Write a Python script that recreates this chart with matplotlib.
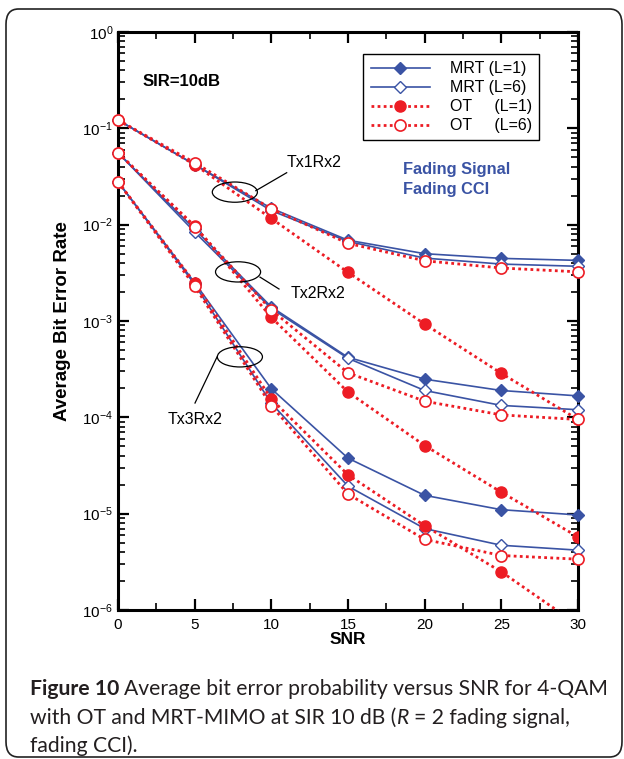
import matplotlib.pyplot as plt
from matplotlib.patches import Ellipse, FancyBboxPatch
from matplotlib.lines import Line2D

snr = [0, 5, 10, 15, 20, 25, 30]

# Tx1Rx2
tx1_mrt1 = [0.122, 0.042, 0.0148, 0.0069, 0.0050, 0.00447, 0.00426]
tx1_mrt6 = [0.122, 0.042, 0.0140, 0.0067, 0.0045, 0.0039, 0.0037]
tx1_ot1 = [0.122, 0.042, 0.0116, 0.0032, 0.00093, 0.000286, 0.000095]
tx1_ot6 = [0.122, 0.044, 0.0146, 0.0064, 0.00422, 0.00355, 0.00324]

# Tx2Rx2
tx2_mrt1 = [0.0558, 0.0090, 0.0014, 0.00042, 0.000249, 0.00019, 0.000167]
tx2_mrt6 = [0.0558, 0.0084, 0.00135, 0.00041, 0.00019, 0.000133, 0.00012]
tx2_ot1 = [0.0558, 0.0097, 0.00109, 0.000183, 0.000051, 0.0000167, 0.00000574]
tx2_ot6 = [0.0558, 0.0095, 0.0013, 0.00029, 0.000147, 0.000106, 0.000095]

# Tx3Rx2
tx3_mrt1 = [0.0279, 0.0025, 0.000198, 0.0000377, 0.0000155, 0.000011, 0.0000097]
tx3_mrt6 = [0.0279, 0.0024, 0.00014, 0.0000193, 0.0000070, 0.0000047, 0.00000418]
tx3_ot1 = [0.0279, 0.0025, 0.000155, 0.0000253, 0.0000075, 0.00000249, 0.0000007]
tx3_ot6 = [0.0279, 0.0023, 0.000132, 0.000016, 0.0000054, 0.00000368, 0.00000337]

blue = '#3a53a4'
red = '#ed1c24'

plt.rcParams['font.family'] = ['Liberation Sans', 'DejaVu Sans']

fig = plt.figure(figsize=(6.24, 7.59), dpi=100)
ax = fig.add_axes([0.1891, 0.1963, 0.7372, 0.7615])

mrt1 = dict(color=blue, lw=1.2, marker='D', ms=6.5, mfc=blue, mec=blue)
mrt6 = dict(color=blue, lw=1.2, marker='D', ms=6.5, mfc='white', mec=blue, mew=1.0)
ot1 = dict(color=red, lw=2.0, ls=(0, (1, 1.2)), marker='o', ms=8, mfc=red, mec=red)
ot6 = dict(color=red, lw=2.0, ls=(0, (1, 1.2)), marker='o', ms=8, mfc='white', mec=red, mew=1.2)

for m1, m6, o1, o6 in [(tx1_mrt1, tx1_mrt6, tx1_ot1, tx1_ot6),
                       (tx2_mrt1, tx2_mrt6, tx2_ot1, tx2_ot6),
                       (tx3_mrt1, tx3_mrt6, tx3_ot1, tx3_ot6)]:
    ax.plot(snr, m1, clip_on=False, zorder=3, **mrt1)
    ax.plot(snr, m6, clip_on=False, zorder=3, **mrt6)
    ax.plot(snr, o1, zorder=4, **ot1)
    ax.plot(snr, o6, clip_on=False, zorder=4, **ot6)

ax.set_yscale('log')
ax.set_xlim(0, 30)
ax.set_ylim(1e-6, 1)
ax.set_xticks(range(0, 31, 5))
ax.set_xticks([2.5 + 5 * i for i in range(6)], minor=True)
ax.tick_params(which='both', direction='in', top=True, right=True, labelsize=11, width=1.2)
ax.tick_params(which='major', length=8, width=1.6)
ax.tick_params(which='minor', length=5)
ax.tick_params(axis='x', pad=6)
for s in ax.spines.values():
    s.set_linewidth(2.2)

ax.set_xlabel('SNR', fontsize=12.5, fontweight='bold', labelpad=0)
ax.set_ylabel('Average Bit Error Rate', fontsize=13.5, fontweight='bold', labelpad=8)

ax.text(0.054, 0.915, 'SIR=10dB', transform=ax.transAxes, fontsize=12, fontweight='bold',
        va='center', ha='left')
ax.text(0.62, 0.762, 'Fading Signal', transform=ax.transAxes, fontsize=11.8, fontweight='bold',
        color=blue, va='center', ha='left')
ax.text(0.62, 0.727, 'Fading CCI', transform=ax.transAxes, fontsize=11.8, fontweight='bold',
        color=blue, va='center', ha='left')

# group annotations
groups = [((0.254, 0.723), (0.2996, 0.7255), (0.3667, 0.7566), (0.426, 0.775), 'Tx1Rx2'),
          ((0.261, 0.585), (0.3087, 0.576), (0.35, 0.5554), (0.435, 0.547), 'Tx2Rx2'),
          ((0.265, 0.438), (0.2152, 0.4377), (0.1674, 0.3581), (0.1674, 0.329), 'Tx3Rx2')]
for c, p0, p1, tp, lab in groups:
    ax.add_patch(Ellipse(c, 0.098, 0.035, transform=ax.transAxes, fill=False,
                         ec='black', lw=0.9, zorder=5))
    ax.plot([p0[0], p1[0]], [p0[1], p1[1]], transform=ax.transAxes, color='black', lw=0.9, zorder=5)
    ax.text(tp[0], tp[1], lab, transform=ax.transAxes, fontsize=11.5, ha='center', va='center')

handles = [Line2D([], [], **mrt1), Line2D([], [], **mrt6), Line2D([], [], **ot1), Line2D([], [], **ot6)]
labels = ['MRT (L=1)', 'MRT (L=6)', 'OT     (L=1)', 'OT     (L=6)']
leg = ax.legend(handles, labels, loc='upper right', bbox_to_anchor=(0.915, 0.962), fontsize=11.5,
                handlelength=3.75, handletextpad=1.2, labelspacing=0.25, borderpad=0.45,
                borderaxespad=0, fancybox=False, edgecolor='black', framealpha=1)
leg.get_frame().set_linewidth(1.0)

# caption, pieces placed one after another
cap_kw = dict(fontsize=15.2, color='#231f20', family=['Lato', 'DejaVu Sans'], va='center')
r = fig.canvas.get_renderer()
inv = fig.transFigure.inverted()


def caption_line(x, y, parts):
    for txt, extra, gap in parts:
        t = fig.text(x + gap / 624, y, txt, **cap_kw, **extra)
        x = inv.transform(t.get_window_extent(r))[1][0]
    return x


caption_line(30 / 624, 1 - 689 / 759, [('Figure 10', dict(fontweight='bold'), 0),
                                        ('Average bit error probability versus SNR for 4-QAM', {}, 5)])
caption_line(30 / 624, 1 - 718 / 759, [('with OT and MRT-MIMO at SIR 10 dB (', {}, 0),
                                        ('R', dict(style='italic'), 0.5),
                                        ('= 2 fading signal,', {}, 5)])
caption_line(30 / 624, 1 - 746 / 759, [('fading CCI).', {}, 0)])

box = FancyBboxPatch((6 / 624, 2 / 759), 616 / 624, 748 / 759, boxstyle='round,pad=0,rounding_size=0.02',
                     transform=fig.transFigure, fill=False, ec='#222222', lw=1.2)
fig.patches.append(box)

fig.savefig('out.png', dpi=100)
